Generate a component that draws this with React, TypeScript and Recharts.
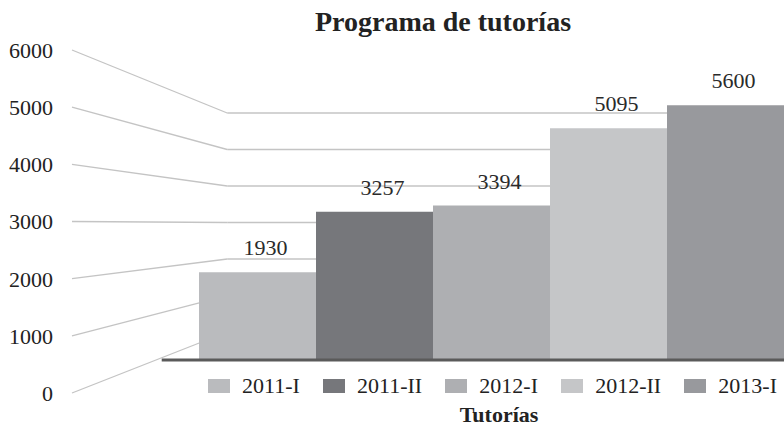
import { ComposedChart, XAxis, YAxis, Bar, Cell, LabelList, Legend, ReferenceLine } from 'recharts';

const periods = ['2011-I', '2011-II', '2012-I', '2012-II', '2013-I'];
const tutorias = [1930, 3257, 3394, 5095, 5600];
const barColors = ['#babbbe', '#76777b', '#aeafb2', '#c5c6c8', '#98999d'];
const wallTicks = [0, 1000, 2000, 3000, 4000, 5000, 6000];

// Fake 3D: three value scales sharing the same plot height.
// wall = labels on the left, back = back wall gridlines, front = the bars
const WALL_DOMAIN = [0, 6000];
const BACK_DOMAIN = [-1671, 7726];
const FRONT_DOMAIN = [-725, 6814];
// horizontal "depth" axis in percent of the plot width
const DEPTH_DOMAIN = [0, 100];
const WALL_CORNER = 21.8; // where side wall meets back wall
const FLOOR_START = 12.6;

const FONT = '"Liberation Serif", "Times New Roman", serif';
const GRID = '#c4c4c4';

const data = periods.map((period, i) => ({ period, value: tutorias[i] }));

// back-wall value expressed in wall-axis units (both axes share the pixel range)
const backInWall = (v: number) =>
  ((v - BACK_DOMAIN[0]) / (BACK_DOMAIN[1] - BACK_DOMAIN[0])) * (WALL_DOMAIN[1] - WALL_DOMAIN[0]) + WALL_DOMAIN[0];

const ValueLabel = (props: any) => {
  const { x, y, width, value } = props;
  return (
    <text x={x + width / 2 + 8} y={y - 17} textAnchor="middle" fontFamily={FONT} fontSize={22} fill="#2a2a2a">
      {value}
    </text>
  );
};

const WallTick = (props: any) => {
  const { x, y, payload } = props;
  return (
    <text x={x} y={y} dy="0.36em" textAnchor="end" fontFamily={FONT} fontSize={22} fill="#222">
      {payload.value}
    </text>
  );
};

const AxisTitle = (props: any) => {
  const { viewBox } = props;
  return (
    <text
      x={viewBox.x + viewBox.width / 2 + 71}
      y={viewBox.y + viewBox.height - 8}
      textAnchor="middle"
      fontFamily={FONT}
      fontSize={22}
      fontWeight="bold"
      fill="#222"
    >
      Tutorías
    </text>
  );
};

const LegendContent = () => (
  <div
    style={{
      display: 'flex',
      justifyContent: 'space-between',
      alignItems: 'center',
      fontFamily: FONT,
      fontSize: 22,
      color: '#222',
      lineHeight: '20px',
    }}
  >
    {periods.map((p, i) => (
      <span key={p} style={{ display: 'flex', alignItems: 'center' }}>
        <span style={{ display: 'inline-block', width: 22, height: 14, background: barColors[i], marginRight: 12 }} />
        <span>{p}</span>
      </span>
    ))}
  </div>
);

export default function App() {
  return (
    <div style={{ position: 'absolute', left: 0, top: 0, width: 784, height: 430, background: '#fff' }}>
      <div
        style={{
          position: 'absolute',
          left: 0,
          width: 886,
          top: 8,
          textAlign: 'center',
          fontFamily: FONT,
          fontSize: 28,
          fontWeight: 'bold',
          lineHeight: 1,
          color: '#222',
          zIndex: 2,
        }}
      >
        Programa de tutorías
      </div>
      <ComposedChart
        width={784}
        height={430}
        data={data}
        margin={{ top: 50, right: 0, bottom: 0, left: 0 }}
        barCategoryGap={0}
        barGap={0}
      >
        <XAxis
          xAxisId="cat"
          dataKey="period"
          height={37}
          padding={{ left: 127, right: 0 }}
          tick={false}
          tickLine={false}
          axisLine={false}
          label={<AxisTitle />}
        />
        <XAxis xAxisId="depth" dataKey="depth" type="number" domain={DEPTH_DOMAIN} hide allowDataOverflow />
        <YAxis
          yAxisId="wall"
          orientation="left"
          type="number"
          domain={WALL_DOMAIN}
          ticks={wallTicks}
          interval={0}
          width={72}
          axisLine={false}
          tickLine={false}
          tickSize={0}
          tickMargin={19}
          tick={<WallTick />}
          allowDataOverflow
        />
        <YAxis yAxisId="back" orientation="right" width={0} type="number" domain={BACK_DOMAIN} hide allowDataOverflow />
        <YAxis yAxisId="front" orientation="right" width={0} type="number" domain={FRONT_DOMAIN} hide allowDataOverflow />

        {wallTicks.map((v) => (
          <ReferenceLine
            key={'side' + v}
            xAxisId="depth"
            yAxisId="wall"
            segment={[
              { x: DEPTH_DOMAIN[0], y: v },
              { x: WALL_CORNER, y: backInWall(v) },
            ]}
            stroke={GRID}
            strokeWidth={1.3}
            ifOverflow="visible"
            zIndex={-80}
          />
        ))}
        {wallTicks.map((v) => (
          <ReferenceLine
            key={'back' + v}
            xAxisId="depth"
            yAxisId="back"
            segment={[
              { x: WALL_CORNER, y: v },
              { x: DEPTH_DOMAIN[1], y: v },
            ]}
            stroke={GRID}
            strokeWidth={1.3}
            ifOverflow="visible"
            zIndex={-80}
          />
        ))}

        <Bar dataKey="value" xAxisId="cat" yAxisId="front" isAnimationActive={false}>
          {data.map((d, i) => (
            <Cell key={d.period} fill={barColors[i]} />
          ))}
          <LabelList dataKey="value" content={<ValueLabel />} />
        </Bar>

        <ReferenceLine
          xAxisId="depth"
          yAxisId="front"
          segment={[
            { x: FLOOR_START, y: 0 },
            { x: DEPTH_DOMAIN[1], y: 0 },
          ]}
          stroke="#5a5a5a"
          strokeWidth={3}
          ifOverflow="visible"
          zIndex={450}
        />

        <Legend
          layout="horizontal"
          verticalAlign="middle"
          align="center"
          content={<LegendContent />}
          wrapperStyle={{ left: 208, top: 376, width: 569, height: 20 }}
        />
      </ComposedChart>
    </div>
  );
}
